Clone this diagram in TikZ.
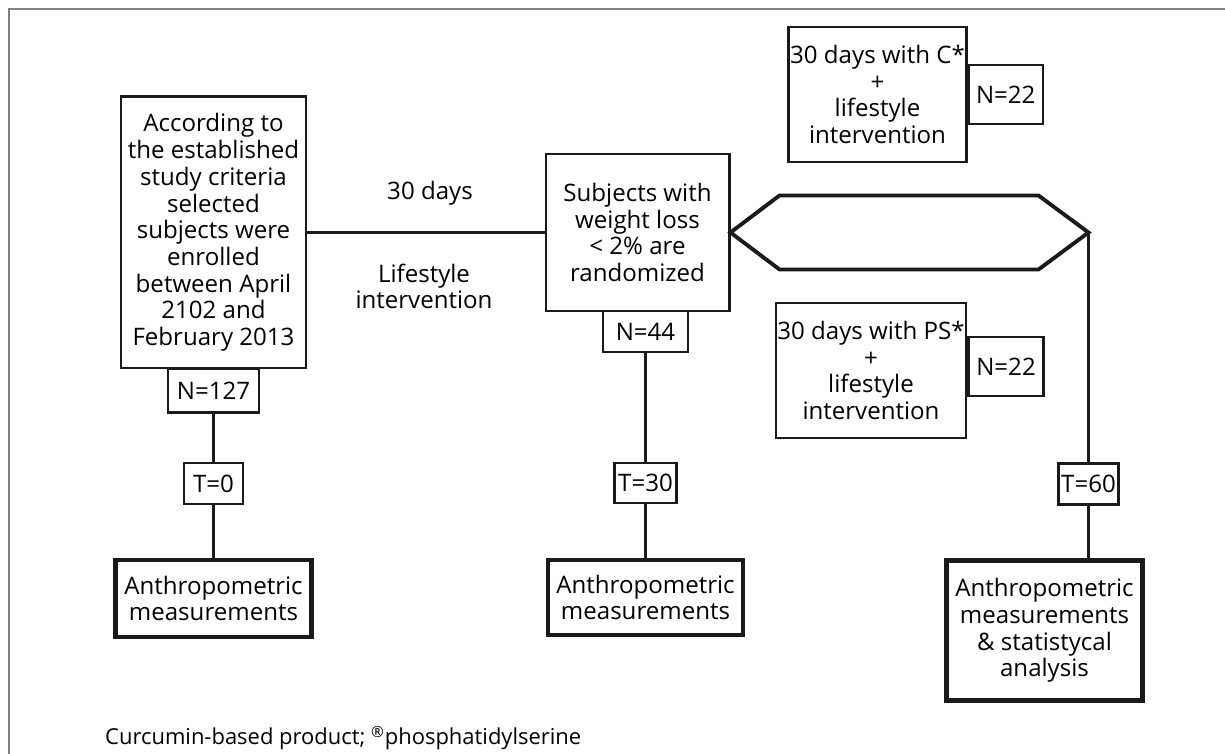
\documentclass[tikz,border=0pt]{standalone}
\usepackage{fontspec}
\setmainfont{Open Sans}
\usepackage{xcolor}
\usepackage{tikz}
\usetikzlibrary{positioning}
\definecolor{ink}{HTML}{1A1A1A}

\begin{document}
\begin{tikzpicture}[
box/.style={rectangle, draw=ink, fill=white, line width=1.7pt, align=center, inner sep=1pt, text=black, font=\fontsize{13.7}{15.2}\selectfont},
tag/.style={box, line width=1.2pt},
result/.style={box, line width=2.6pt},
link/.style={draw=ink, line width=2.2pt},
note/.style={align=center, text=black, font=\fontsize{13.7}{15.2}\selectfont}
]
\useasboundingbox (0,0) rectangle (24.5,-15.08);
\draw[gray, line width=0.7pt] (24.6,-0.18) -- (0.18,-0.18) -- (0.18,-15.2);

\node[box, minimum width=3.70cm, minimum height=5.42cm](enroll) at (4.27,-4.65){According to\\the established\\study criteria\\selected\\subjects were\\enrolled\\between April\\2102 and\\February 2013};
\node[tag, minimum width=1.82cm, minimum height=0.88cm](n_enroll)[below of = enroll, node distance=3.16cm]{N=127};
\node[tag, minimum width=1.18cm, minimum height=0.82cm](t_start)[below of = n_enroll, node distance=1.86cm]{T=0};
\node[result, minimum width=3.92cm, minimum height=1.54cm](anthro_start)[below of = t_start, node distance=2.30cm]{Anthropometric\\measurements};

\node[box, minimum width=3.66cm, minimum height=3.14cm](random)[right of = enroll, node distance=8.48cm]{Subjects with\\weight loss\\< 2\% are\\randomized};
\node[tag, minimum width=1.70cm, minimum height=0.82cm, xshift=0.16cm](n_random)[below of = random, node distance=1.98cm]{N=44};
\node[tag, minimum width=1.24cm, minimum height=0.80cm](t_mid)[below of = n_random, node distance=3.03cm]{T=30};
\node[result, minimum width=3.90cm, minimum height=1.50cm](anthro_mid)[below of = t_mid, node distance=2.29cm]{Anthropometric\\measurements};

\node[note](days) at (8.60,-3.86){30 days};
\node[note](lifestyle) at (8.48,-5.73){Lifestyle\\intervention};

\draw[link] (random.east) -- ++(0.98,0.74) -- ++(5.18,0) -- ++(1.0,-0.74) coordinate (split) -- ++(-1.0,-0.74) -- ++(-5.18,0) -- cycle;

\node[box, line width=1.3pt, minimum width=3.46cm, minimum height=2.70cm](arm_c) at (17.55,-1.89){30 days with C*\\+\\lifestyle\\intervention};
\node[tag, minimum width=1.48cm, minimum height=1.18cm](n_arm_c)[right=0pt of arm_c]{N=22};
\node[box, line width=1.3pt, minimum width=3.68cm, minimum height=2.70cm](arm_ps) at (17.42,-7.41){30 days with PS*\\+\\lifestyle\\intervention};
\node[tag, minimum width=1.50cm, minimum height=1.18cm, yshift=0.08cm](n_arm_ps)[right=0pt of arm_ps]{N=22};

\node[tag, minimum width=1.20cm, minimum height=0.82cm](t_end)[below of = split, node distance=5.03cm]{T=60};
\node[result, minimum width=3.92cm, minimum height=2.80cm, xshift=-0.88cm](anthro_end)[below of = t_end, node distance=2.93cm]{Anthropometric\\measurements\\\& statistycal\\analysis};

\node[note, anchor=west, font=\fontsize{12.5}{14}\selectfont](caption) at (1.98,-14.76){Curcumin-based product; \textsuperscript{®}phosphatidylserine};

\draw[link] (enroll) -- (random);
\draw[link] (n_enroll) -- (t_start);
\draw[link] (t_start) -- (anthro_start);
\draw[link] (n_random) -- (t_mid);
\draw[link] (t_mid) -- (anthro_mid);
\draw[link] (split) -- (t_end);
\draw[link] (t_end) -- (t_end |- anthro_end.north);

\end{tikzpicture}
\end{document}
